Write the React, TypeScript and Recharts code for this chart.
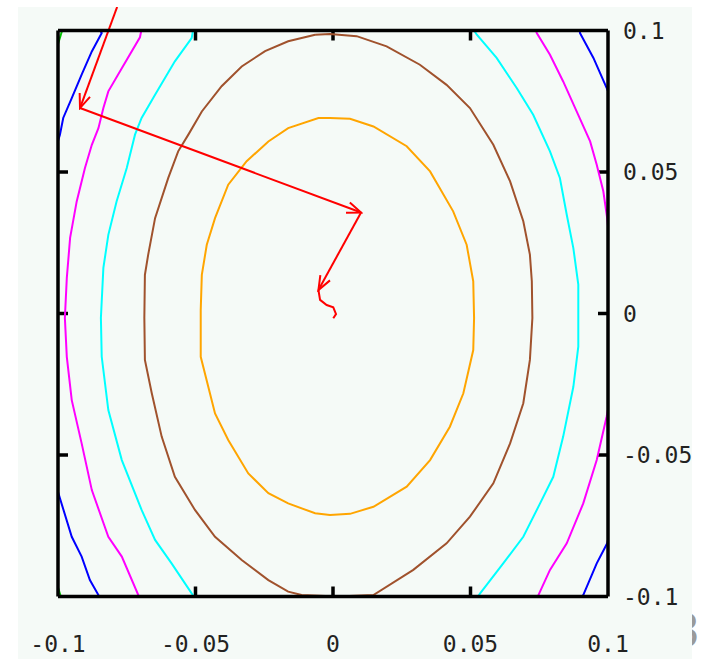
import { ComposedChart, Line, ReferenceLine, XAxis, YAxis } from "recharts";

type Pt = [number, number];

const axisTicks = [-0.1, -0.05, 0, 0.05, 0.1];
const innerTicks = [-0.05, 0, 0.05];

// contour f = 0.005
const orangeLoop: Pt[] = [
  [-0.0011, 0.0691], [0.0062, 0.0688], [0.0147, 0.0661], [0.0268, 0.0591], [0.0353, 0.0502],
  [0.0437, 0.0361], [0.0486, 0.0243], [0.051, 0.0114], [0.0513, -0.0016], [0.051, -0.0129],
  [0.0474, -0.0282], [0.0425, -0.04], [0.0353, -0.0518], [0.0268, -0.0612], [0.0147, -0.0683],
  [0.0062, -0.0708], [-0.0011, -0.0712], [-0.0065, -0.0706], [-0.0163, -0.0671], [-0.0235, -0.0635],
  [-0.0308, -0.0565], [-0.0381, -0.0447], [-0.0429, -0.0353], [-0.0481, -0.0153], [-0.0481, 0.0012],
  [-0.0477, 0.0137], [-0.0459, 0.0243], [-0.0429, 0.0337], [-0.0381, 0.0455], [-0.0314, 0.0538],
  [-0.0235, 0.0608], [-0.0163, 0.0655], [-0.0053, 0.0691], [-0.0011, 0.0691],
];

// contour f = 0.01
const brownLoop: Pt[] = [
  [-0.0065, 0.0985], [-0.0011, 0.0988], [0.0086, 0.098], [0.0195, 0.0944], [0.0316, 0.0879],
  [0.0413, 0.0808], [0.0498, 0.0726], [0.0583, 0.0596], [0.0644, 0.0467], [0.0692, 0.0326],
  [0.0716, 0.0208], [0.0723, 0.0114], [0.0725, -0.0016], [0.0716, -0.0164], [0.0692, -0.0317],
  [0.0644, -0.0459], [0.0583, -0.06], [0.0498, -0.0718], [0.0413, -0.0812], [0.0292, -0.0906],
  [0.0147, -0.0995], [0.0015, -0.1], [-0.0114, -0.0995], [-0.0163, -0.0983], [-0.0235, -0.0942],
  [-0.0332, -0.0871], [-0.0429, -0.0789], [-0.0502, -0.0694], [-0.0575, -0.0577], [-0.0623, -0.0435],
  [-0.0659, -0.0282], [-0.0684, -0.0164], [-0.0686, -0.0016], [-0.0684, 0.0137], [-0.0672, 0.0208],
  [-0.0647, 0.0337], [-0.0599, 0.0479], [-0.0563, 0.0573], [-0.0526, 0.0632], [-0.0477, 0.0714],
  [-0.0405, 0.0803], [-0.0332, 0.0873], [-0.0247, 0.0927], [-0.0163, 0.0962], [-0.0065, 0.0985],
];

// contour f = 0.015
const cyanLeft: Pt[] = [
  [-0.0509, 0.1], [-0.0514, 0.0973], [-0.0575, 0.0891], [-0.0647, 0.0773], [-0.0696, 0.0691],
  [-0.072, 0.0632], [-0.075, 0.0514], [-0.0787, 0.0396], [-0.0817, 0.0278], [-0.0835, 0.0161],
  [-0.0844, -0.0016], [-0.0841, -0.0153], [-0.0817, -0.0341], [-0.0768, -0.0518], [-0.0696, -0.0694],
  [-0.0647, -0.08], [-0.0587, -0.0883], [-0.0514, -0.0989], [-0.0505, -0.1],
];
const cyanRight: Pt[] = [
  [0.0513, 0.1], [0.0523, 0.0985], [0.0595, 0.0903], [0.0668, 0.0797], [0.0728, 0.0702],
  [0.0789, 0.0573], [0.0825, 0.0479], [0.085, 0.0349], [0.0874, 0.0231], [0.0892, 0.0102],
  [0.0892, -0.0016], [0.0892, -0.0117], [0.0874, -0.0259], [0.0837, -0.0435], [0.0801, -0.0577],
  [0.0753, -0.0671], [0.0692, -0.0789], [0.0619, -0.0883], [0.0535, -0.0989], [0.0527, -0.1],
];

// contour f = 0.02
const magentaLeft: Pt[] = [
  [-0.0697, 0.1], [-0.0702, 0.0976], [-0.0768, 0.0867], [-0.0817, 0.0785], [-0.0835, 0.0726],
  [-0.0853, 0.0655], [-0.0877, 0.0596], [-0.0902, 0.0514], [-0.0932, 0.0396], [-0.0956, 0.0267],
  [-0.0968, 0.0125], [-0.0975, -0.0016], [-0.0968, -0.0153], [-0.095, -0.0306], [-0.0914, -0.0459],
  [-0.0877, -0.0624], [-0.0817, -0.0789], [-0.0768, -0.0859], [-0.0708, -0.0995], [-0.0713, -0.1],
];
const magentaRightTop: Pt[] = [
  [0.0738, 0.1], [0.0741, 0.0991], [0.0789, 0.0914], [0.0837, 0.082], [0.0886, 0.0714],
  [0.0935, 0.0608], [0.0959, 0.0526], [0.0983, 0.0432], [0.0997, 0.0337], [0.1, 0.031],
];
const magentaRightBottom: Pt[] = [
  [0.1, -0.034], [0.0995, -0.0365], [0.0959, -0.0518], [0.091, -0.0671], [0.085, -0.0812],
  [0.0789, -0.0906], [0.0747, -0.0995], [0.0745, -0.1],
];

// contour f = 0.025
const blueTopLeft: Pt[] = [
  [-0.0847, 0.1], [-0.0841, 0.0991], [-0.0877, 0.0926], [-0.0914, 0.0844], [-0.095, 0.0761],
  [-0.0981, 0.0691], [-0.0993, 0.0632], [-0.1, 0.061],
];
const blueBottomLeft: Pt[] = [
  [-0.1, -0.063], [-0.0993, -0.0653], [-0.095, -0.0789], [-0.0914, -0.0859], [-0.0884, -0.0942],
  [-0.0853, -0.0995], [-0.0858, -0.1],
];
const blueTopRight: Pt[] = [
  [0.0898, 0.1], [0.0898, 0.0991], [0.0947, 0.0903], [0.0995, 0.0797], [0.1, 0.0786],
];
const blueBottomRight: Pt[] = [
  [0.1, -0.08], [0.0997, -0.0812], [0.0959, -0.0883], [0.091, -0.0995], [0.0907, -0.1],
];

// contour f = 0.03
const greenTopLeft: Pt[] = [[-0.1, 0.0952], [-0.0985, 0.1]];
const greenBottomLeft: Pt[] = [[-0.1, -0.0968], [-0.099, -0.1]];

// descent steps drawn as vectors
const descentSteps: Pt[] = [
  [-0.0785, 0.1083], [-0.092, 0.0726], [0.0102, 0.0357], [-0.0053, 0.0083],
];
const descentTail: Pt[] = [
  [-0.0053, 0.0083], [-0.0047, 0.0048], [-0.0023, 0.003], [0.0001, 0.0022], [0.0011, -0.0002],
  [0.0001, -0.0017],
];

const contours: { pts: Pt[]; color: string }[] = [
  { pts: greenTopLeft, color: "#00c000" },
  { pts: greenBottomLeft, color: "#00c000" },
  { pts: blueTopLeft, color: "#0000ff" },
  { pts: blueBottomLeft, color: "#0000ff" },
  { pts: blueTopRight, color: "#0000ff" },
  { pts: blueBottomRight, color: "#0000ff" },
  { pts: magentaLeft, color: "#ff00ff" },
  { pts: magentaRightTop, color: "#ff00ff" },
  { pts: magentaRightBottom, color: "#ff00ff" },
  { pts: cyanLeft, color: "#00ffff" },
  { pts: cyanRight, color: "#00ffff" },
  { pts: brownLoop, color: "#a0522d" },
  { pts: orangeLoop, color: "#ffa500" },
];

const toRows = (pts: Pt[]) => pts.map(([x, y]) => ({ x, y }));

const frame = { stroke: "#000", strokeWidth: 3.5 };
const TICK_LEN = 10;
const labelStyle = { fill: "#222", fontSize: 23, fontFamily: "DejaVu Sans Mono" };

const BottomLabel = (p: any) => (
  <text x={p.x} y={p.y} dy="0.71em" textAnchor="middle" {...labelStyle}>{String(p.payload.value)}</text>
);
const RightLabel = (p: any) => (
  <text x={p.x} y={p.y} dy="0.355em" textAnchor="start" {...labelStyle}>{String(p.payload.value)}</text>
);

// short inward stubs at both ends of a full-height / full-width reference line
const VerticalStubs = (p: any) => {
  const top = Math.min(p.y1, p.y2);
  const bot = Math.max(p.y1, p.y2);
  return (
    <g>
      <line x1={p.x1} x2={p.x1} y1={top} y2={top + TICK_LEN} {...frame} />
      <line x1={p.x1} x2={p.x1} y1={bot} y2={bot - TICK_LEN} {...frame} />
    </g>
  );
};
const HorizontalStubs = (p: any) => {
  const left = Math.min(p.x1, p.x2);
  const right = Math.max(p.x1, p.x2);
  return (
    <g>
      <line x1={left} x2={left + TICK_LEN} y1={p.y1} y2={p.y1} {...frame} />
      <line x1={right} x2={right - TICK_LEN} y1={p.y1} y2={p.y1} {...frame} />
    </g>
  );
};

export default function App() {
  return (
    <div style={{ position: "relative", width: 701, height: 659, background: "#fff", overflow: "hidden" }}>
      <style>{`body { margin: 0; }`}</style>
      <svg width={0} height={0} style={{ position: "absolute" }}>
        <defs>
          <marker id="gp-head" markerWidth={18} markerHeight={14} refX={16} refY={7} orient="auto" markerUnits="userSpaceOnUse">
            <path d="M2,1.5 L16,7 L2,12.5" fill="none" stroke="#ff0000" strokeWidth={2} />
          </marker>
        </defs>
      </svg>
      <span style={{ position: "absolute", left: 671, top: 604, fontSize: 46, color: "#9a9a9a", fontFamily: "DejaVu Sans" }}>3</span>
      <div style={{ position: "absolute", left: 18, top: 7, width: 674, height: 652, background: "#f5faf7" }}>
        <ComposedChart width={674} height={652} margin={{ top: 22.5, left: 39, right: 4, bottom: 2.5 }}>
          <XAxis
            dataKey="x"
            type="number"
            domain={[-0.1, 0.1]}
            allowDataOverflow
            ticks={axisTicks}
            interval={0}
            height={60}
            tickSize={0}
            tickMargin={39}
            axisLine={frame}
            tickLine={false}
            tick={BottomLabel}
          />
          <XAxis
            xAxisId="top"
            orientation="top"
            dataKey="x"
            type="number"
            domain={[-0.1, 0.1]}
            allowDataOverflow
            ticks={axisTicks}
            height={1}
            axisLine={frame}
            tickLine={false}
            tick={false}
          />
          <YAxis
            orientation="right"
            type="number"
            domain={[-0.1, 0.1]}
            allowDataOverflow
            ticks={axisTicks}
            interval={0}
            width={80}
            tickSize={0}
            tickMargin={15}
            axisLine={frame}
            tickLine={false}
            tick={RightLabel}
          />
          <YAxis
            yAxisId="left"
            orientation="left"
            type="number"
            domain={[-0.1, 0.1]}
            allowDataOverflow
            ticks={axisTicks}
            width={1}
            axisLine={frame}
            tickLine={false}
            tick={false}
          />
          {innerTicks.map((v) => (
            <ReferenceLine key={`vx${v}`} x={v} ifOverflow="visible" shape={VerticalStubs} />
          ))}
          {innerTicks.map((v) => (
            <ReferenceLine key={`hy${v}`} y={v} ifOverflow="visible" shape={HorizontalStubs} />
          ))}
          {contours.map((c, i) => (
            <Line
              key={i}
              data={toRows(c.pts)}
              dataKey="y"
              type="linear"
              stroke={c.color}
              strokeWidth={2}
              dot={false}
              activeDot={false}
              isAnimationActive={false}
            />
          ))}
          <Line
            data={toRows(descentTail)}
            dataKey="y"
            type="linear"
            stroke="#ff0000"
            strokeWidth={2}
            dot={false}
            activeDot={false}
            isAnimationActive={false}
          />
          {descentSteps.slice(1).map((p, i) => (
            <ReferenceLine
              key={i}
              segment={[
                { x: descentSteps[i][0], y: descentSteps[i][1] },
                { x: p[0], y: p[1] },
              ]}
              ifOverflow="visible"
              stroke="#ff0000"
              strokeWidth={2}
              markerEnd="url(#gp-head)"
            />
          ))}
        </ComposedChart>
      </div>
    </div>
  );
}
